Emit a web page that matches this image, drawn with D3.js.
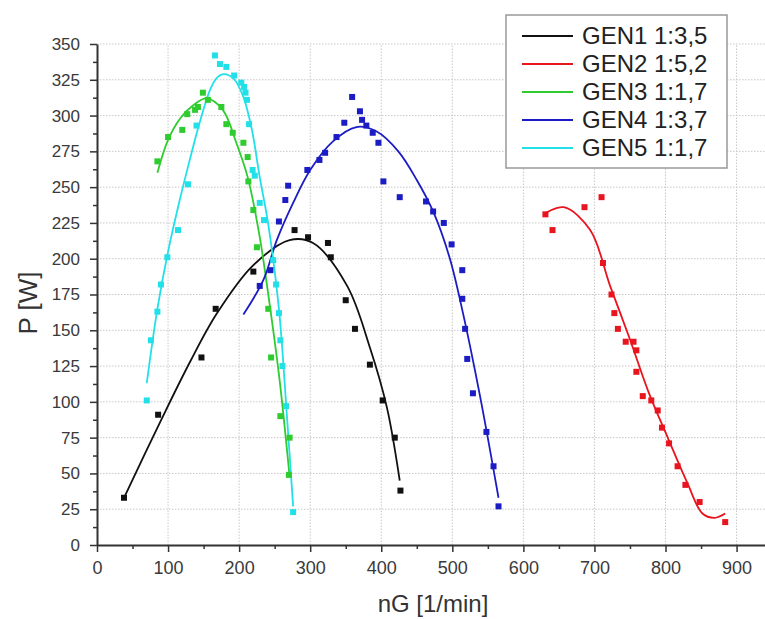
<!DOCTYPE html>
<html>
<head>
<meta charset="utf-8">
<script src="https://cdn.jsdelivr.net/npm/d3@7"></script>
<style>
  body { margin: 0; background: #fff; }
  text { font-family: Arial, "Liberation Sans", sans-serif; }
</style>
</head>
<body>
<div id="chart"></div>
<script>
// measured points
var gen1X = [38, 86, 147, 167, 220, 278, 297, 325, 329, 350, 363, 384, 402, 419, 427];
var gen1Y = [33, 91, 131, 165, 191, 220, 215, 211, 201, 171, 151, 126, 101, 75, 38];
var gen2X = [631, 641, 686, 710, 712, 724, 728, 733, 744, 755, 759, 759, 768, 780, 789, 795, 805, 817, 828, 848, 884];
var gen2Y = [231, 220, 236, 243, 197, 175, 162, 151, 142, 142, 136, 121, 104, 101, 94, 82, 71, 55, 42, 30, 16];
var gen3X = [85, 100, 120, 127, 138, 142, 149, 156, 175, 182, 191, 206, 212, 213, 220, 225, 241, 245, 258, 271, 270];
var gen3Y = [268, 285, 290, 301, 304, 306, 316, 311, 306, 294, 288, 281, 271, 254, 234, 208, 165, 131, 90, 75, 49];
var gen4X = [229, 244, 256, 265, 269, 296, 313, 321, 337, 348, 359, 370, 373, 379, 388, 396, 403, 426, 463, 473, 488, 499, 514, 514, 518, 521, 529, 548, 558, 565];
var gen4Y = [181, 192, 226, 241, 251, 262, 269, 274, 285, 295, 313, 303, 297, 293, 288, 281, 254, 243, 240, 233, 225, 210, 192, 172, 151, 130, 106, 79, 55, 27];
var gen5X = [70, 76, 85, 90, 99, 114, 128, 140, 166, 173, 182, 193, 203, 207, 209, 211, 214, 219, 222, 229, 235, 248, 252, 256, 258, 261, 266, 276];
var gen5Y = [101, 143, 163, 182, 201, 220, 252, 293, 342, 336, 334, 328, 323, 320, 316, 311, 294, 262, 258, 239, 227, 199, 182, 162, 143, 125, 97, 23];

// fitted curves
var fit1X = [39, 89, 131, 169, 219, 271, 304, 352, 384, 408, 426];
var fit1Y = [34, 86, 128, 162, 195, 213, 211, 181, 138, 96, 45];
var fit2X = [628, 657, 694, 722, 749, 776, 804, 831, 852, 869, 884];
var fit2Y = [231, 236, 220, 181, 145, 107, 74, 43, 22, 19, 22];
var fit3X = [85, 100, 117, 135, 154, 177, 196, 212, 228, 243, 257, 271];
var fit3Y = [260, 283, 298, 307, 312, 304, 281, 257, 218, 168, 115, 48];
var fit4X = [206, 234, 253, 276, 300, 332, 365, 393, 424, 450, 473, 496, 515, 539, 565];
var fit4Y = [161, 185, 213, 239, 262, 282, 292, 289, 275, 255, 233, 201, 162, 104, 33];
var fit5X = [70, 85, 100, 115, 130, 145, 160, 170, 178, 192, 206, 218, 229, 241, 256, 267, 276];
var fit5Y = [113, 165, 205, 238, 268, 296, 319, 327, 329, 326, 313, 290, 257, 224, 165, 92, 27];

var names = ["GEN1 1:3,5", "GEN2 1:5,2", "GEN3 1:1,7", "GEN4 1:3,7", "GEN5 1:1,7"];
var colors = ["#111111", "#e8141e", "#2ecc2e", "#1c1cc4", "#22e0e8"];

var xTicks = d3.range(0, 901, 100);
var yTicks = d3.range(0, 351, 25);

var series = [
  {px: gen1X, py: gen1Y, fx: fit1X, fy: fit1Y},
  {px: gen2X, py: gen2Y, fx: fit2X, fy: fit2Y},
  {px: gen3X, py: gen3Y, fx: fit3X, fy: fit3Y},
  {px: gen4X, py: gen4Y, fx: fit4X, fy: fit4Y},
  {px: gen5X, py: gen5Y, fx: fit5X, fy: fit5Y}
];
series.forEach(function(s, i){ s.name = names[i]; s.color = colors[i]; });

var width = 765, height = 619;
var svg = d3.select("#chart").append("svg")
    .attr("width", width)
    .attr("height", height);

var x = d3.scaleLinear().domain([0, 940]).range([97, 765]);
var y = d3.scaleLinear().domain([0, 350]).range([545, 44]);

// grid
svg.append("g").selectAll("line")
    .data(xTicks.slice(1))
    .enter().append("line")
    .attr("x1", function(d){ return x(d); })
    .attr("x2", function(d){ return x(d); })
    .attr("y1", y(0))
    .attr("y2", y(350))
    .attr("stroke", "#c8c8c8")
    .attr("stroke-width", 1)
    .attr("stroke-dasharray", "1.5,1.5");

svg.append("g").selectAll("line")
    .data(yTicks.slice(1))
    .enter().append("line")
    .attr("x1", x(0))
    .attr("x2", 765)
    .attr("y1", function(d){ return y(d); })
    .attr("y2", function(d){ return y(d); })
    .attr("stroke", "#c8c8c8")
    .attr("stroke-width", 1)
    .attr("stroke-dasharray", "1.5,1.5");

// fitted lines
var line = d3.line()
    .x(function(d){ return x(d[0]); })
    .y(function(d){ return y(d[1]); })
    .curve(d3.curveCatmullRom.alpha(0.5));

series.forEach(function(s){
  var pts = s.fx.map(function(v, i){ return [v, s.fy[i]]; });
  svg.append("path")
      .datum(pts)
      .attr("d", line)
      .attr("fill", "none")
      .attr("stroke", s.color)
      .attr("stroke-width", 1.8);
});

// points
var sz = 6;
series.forEach(function(s){
  svg.append("g").selectAll("rect")
      .data(s.px.map(function(v, i){ return [v, s.py[i]]; }))
      .enter().append("rect")
      .attr("x", function(d){ return x(d[0]) - sz/2; })
      .attr("y", function(d){ return y(d[1]) - sz/2; })
      .attr("width", sz)
      .attr("height", sz)
      .attr("fill", s.color);
});

// axes
var xAxis = svg.append("g")
    .attr("transform", "translate(0," + y(0) + ")")
    .call(d3.axisBottom(x).tickValues(xTicks).tickSize(7).tickSizeOuter(0).tickPadding(9).tickFormat(d3.format("d")));
svg.append("g")
    .attr("transform", "translate(0," + y(0) + ")")
    .call(d3.axisBottom(x).tickValues(d3.range(50, 900, 100)).tickSize(4).tickFormat(""))
    .select(".domain").remove();

var yAxis = svg.append("g")
    .attr("transform", "translate(" + x(0) + ",0)")
    .call(d3.axisLeft(y).tickValues(yTicks).tickSize(7).tickSizeOuter(0).tickPadding(10).tickFormat(d3.format("d")));
svg.append("g")
    .attr("transform", "translate(" + x(0) + ",0)")
    .call(d3.axisLeft(y).tickValues(d3.range(12.5, 350, 25)).tickSize(4).tickFormat(""))
    .select(".domain").remove();

svg.selectAll(".domain").attr("stroke", "#333").attr("stroke-width", 2);
svg.selectAll(".tick line").attr("stroke", "#333").attr("stroke-width", 1.5);
xAxis.selectAll("text").attr("font-size", 18).attr("fill", "#3a3a3a");
yAxis.selectAll("text").attr("font-size", 17).attr("fill", "#3a3a3a");

// axis titles
svg.append("text")
    .attr("x", 433)
    .attr("y", 612)
    .attr("text-anchor", "middle")
    .attr("font-size", 24)
    .attr("fill", "#333")
    .text("nG [1/min]");

svg.append("text")
    .attr("transform", "translate(37,303) rotate(-90)")
    .attr("text-anchor", "middle")
    .attr("font-size", 26)
    .attr("fill", "#333")
    .text("P [W]");

// legend
var legend = svg.append("g");
legend.append("rect")
    .attr("x", 506)
    .attr("y", 15)
    .attr("width", 221)
    .attr("height", 153)
    .attr("fill", "#fff")
    .attr("stroke", "#999")
    .attr("stroke-width", 1.5);

var items = legend.selectAll(".item")
    .data(series)
    .enter().append("g")
    .attr("transform", function(d, i){ return "translate(0," + (36 + i * 28) + ")"; });
items.append("line")
    .attr("x1", 522).attr("x2", 573)
    .attr("y1", 0).attr("y2", 0)
    .attr("stroke", function(d){ return d.color; })
    .attr("stroke-width", 2);
items.append("text")
    .attr("x", 582)
    .attr("y", 8)
    .attr("font-size", 24)
    .attr("fill", "#222")
    .text(function(d){ return d.name; });
</script>
</body>
</html>
